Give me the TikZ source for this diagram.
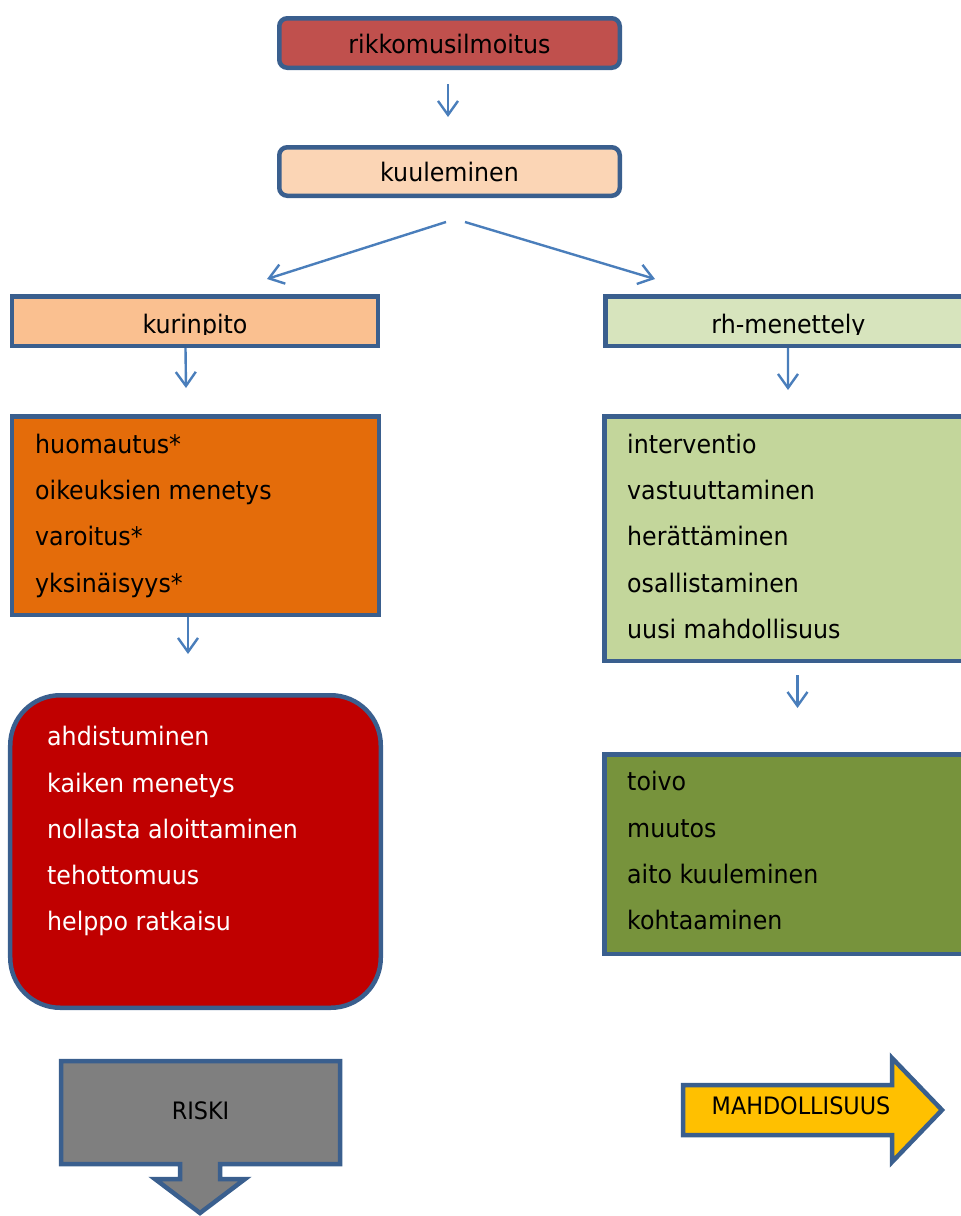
\documentclass[tikz,border=0pt]{standalone}
\usepackage{fontspec}
\setmainfont{DejaVu Sans}[FakeStretch=0.93]
\usetikzlibrary{arrows.meta,calc}
\definecolor{bord}{HTML}{3A5F8E}
\definecolor{arrowblue}{HTML}{4A7EBB}
\definecolor{rikc}{HTML}{C0504D}
\definecolor{kuulc}{HTML}{FBD5B5}
\definecolor{kurc}{HTML}{FAC090}
\definecolor{rhc}{HTML}{D7E4BD}
\definecolor{huoc}{HTML}{E46C0A}
\definecolor{redc}{HTML}{C00000}
\definecolor{intc}{HTML}{C3D69B}
\definecolor{toivoc}{HTML}{77933C}
\definecolor{riskc}{HTML}{7F7F7F}
\definecolor{mahc}{HTML}{FFC000}
\begin{document}
\begin{tikzpicture}[x=1bp,y=-1bp,
  font=\fontsize{25.5bp}{30bp}\selectfont,
  box/.style={draw=bord,line width=4.5bp,inner sep=0pt},
  arr/.style={draw=arrowblue,line width=2.4bp,-{Straight Barb[length=14bp,width=20bp]}},
  lst/.style={anchor=base west,inner sep=0pt},
  ctr/.style={anchor=base,inner sep=0pt}]
\useasboundingbox (0,0) rectangle (961,1216);
\clip (0,0) rectangle (961,1216);

% boxes
\node[box,fill=rikc,rounded corners=8bp,minimum width=340.5bp,minimum height=49.5bp] (rik) at (449.5,43) {};
\node[ctr] (rikt) at (449.5,53) {rikkomusilmoitus};
\node[box,fill=kuulc,rounded corners=8bp,minimum width=340.5bp,minimum height=48.5bp] (kuul) at (449.5,171.5) {};
\node[ctr] (kuult) at (449.5,181.5) {kuuleminen};

\node[box,fill=kurc,minimum width=365.5bp,minimum height=49.5bp] (kur) at (195,321) {};
\node[box,fill=rhc,minimum width=365.5bp,minimum height=49.5bp] (rh) at (788,321) {};
\begin{scope}
  \clip (0,290) rectangle (961,334);
  \node[ctr] (kurt) at (195,333) {kurinpito};
  \node[ctr] (rht) at (788.5,333) {rh-menettely};
\end{scope}

\node[box,fill=huoc,minimum width=366.5bp,minimum height=198.5bp] (huo) at (195.5,515.5) {};
\foreach \t [count=\i] in {huomautus*,oikeuksien menetys,varoitus*,yksinäisyys*}
  \node[lst,name=h\i] at (35,{453.3+46.3*(\i-1)}) {\t};

\node[box,fill=intc,minimum width=366.5bp,minimum height=244.5bp] (int) at (787.5,538.5) {};
\foreach \t [count=\i] in {interventio,vastuuttaminen,herättäminen,osallistaminen,uusi mahdollisuus}
  \node[lst,name=i\i] at (627,{453.3+46.3*(\i-1)}) {\t};

\node[box,fill=redc,rounded corners=50bp,minimum width=370.5bp,minimum height=312.5bp] (red) at (195.5,851.5) {};
\foreach \t [count=\i] in {ahdistuminen,kaiken menetys,nollasta aloittaminen,tehottomuus,helppo ratkaisu}
  \node[lst,text=white,name=r\i] at (47,{745.7+46.3*(\i-1)}) {\t};

\node[box,fill=toivoc,minimum width=366.5bp,minimum height=199.5bp] (toivo) at (787.5,854) {};
\foreach \t [count=\i] in {toivo,muutos,aito kuuleminen,kohtaaminen}
  \node[lst,name=t\i] at (627,{790.7+46.3*(\i-1)}) {\t};

% block arrows
\draw[draw=bord,line width=4.5bp,fill=riskc]
  (61,1061) -- (340,1061) -- (340,1164) -- (220,1164) -- (220,1179) -- (245,1179)
  -- (200,1213) -- (155,1179) -- (180,1179) -- (180,1164) -- (61,1164) -- cycle;
\node[ctr,font=\fontsize{24bp}{28bp}\selectfont] (risk) at (200.5,1119) {RISKI};
\draw[draw=bord,line width=4.5bp,fill=mahc]
  (683,1085) -- (892,1085) -- (892,1058) -- (942,1110) -- (892,1162) -- (892,1135)
  -- (683,1135) -- cycle;
\node[ctr,font=\fontsize{24bp}{28bp}\selectfont] (mah) at (801,1114) {MAHDOLLISUUS};

% connectors
\draw[arr,shorten <=14bp,shorten >=28bp] ($(rik.south)+(-1.5,0)$) -- ($(kuul.north)+(-1.5,0)$);
\draw[arr] ($(kuul.south)+(-3.5,24)$) -- ($(kur.north)+(72,-15)$);
\draw[arr] ($(kuul.south)+(15.5,24)$) -- ($(rh.north)+(-133,-15)$);
\draw[arr] ($(kur.south)+(-9.5,0)$) -- ($(huo.north)+(-9.5,-26)$);
\draw[arr] ($(rh.south)+(0,0)$) -- ($(int.north)+(0.5,-24)$);
\draw[arr] ($(huo.south)+(-7.5,0)$) -- ($(red.north)+(-7.5,-39)$);
\draw[arr] ($(int.south)+(10,12)$) -- ($(toivo.north)+(10,-44)$);
\end{tikzpicture}
\end{document}
